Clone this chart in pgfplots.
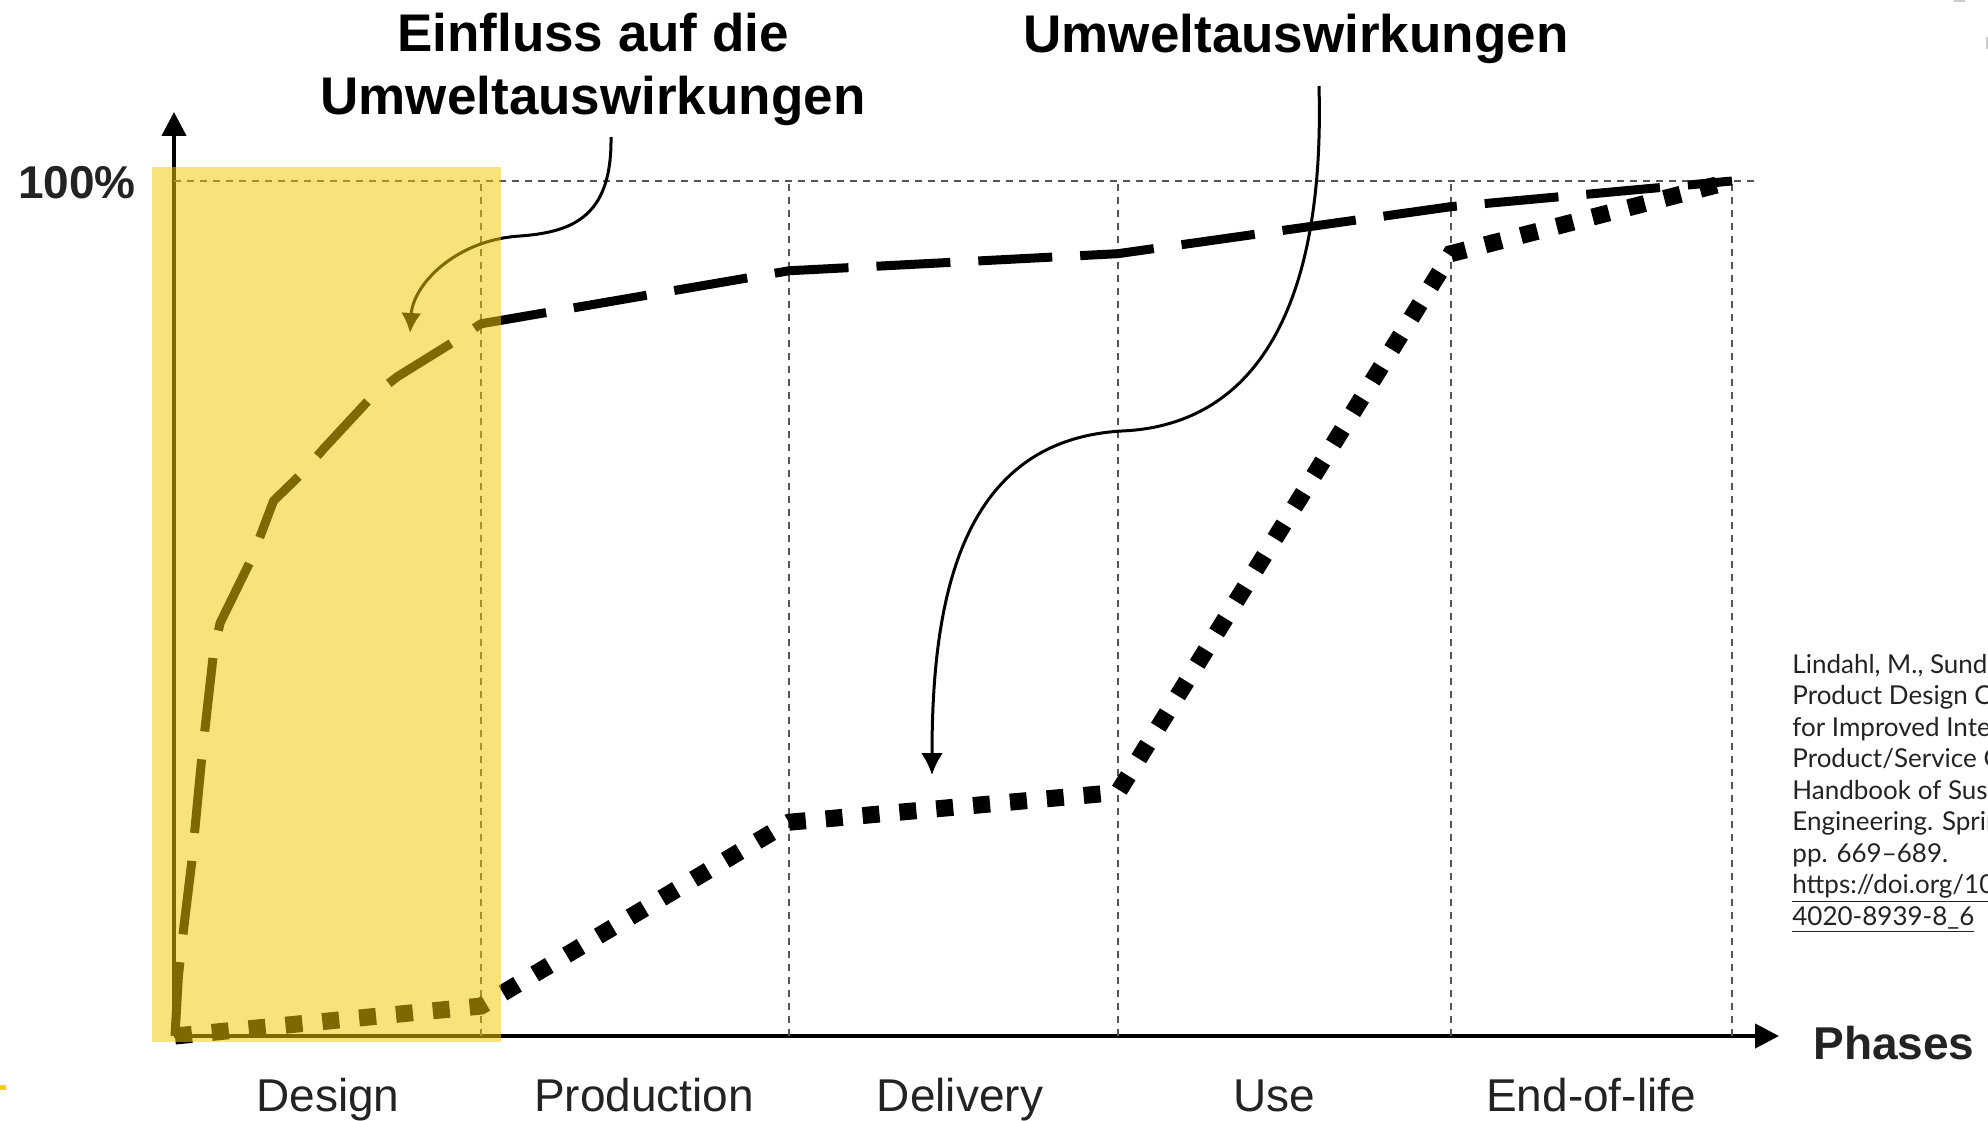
\documentclass[border=0pt]{standalone}
\usepackage{pgfplots}
\pgfplotsset{compat=1.18}
\usepackage{fontspec}
\setmainfont{Liberation Sans}
\newfontfamily\citefont{Lato}
\usetikzlibrary{arrows.meta}
\definecolor{hl}{RGB}{246,200,0}
\definecolor{gridc}{RGB}{85,85,85}
\definecolor{labc}{RGB}{35,35,35}
\definecolor{markyel}{RGB}{245,208,0}

\begin{document}
\begin{tikzpicture}
\begin{scope}[x=0.5pt,y=-0.5pt]
\useasboundingbox[fill=white] (0,0) rectangle (1988,1120);
\end{scope}

\begin{axis}[
  at={(87pt,-518pt)}, anchor=origin,
  scale only axis, width=802.5pt, height=462pt,
  xmin=0, xmax=1605, ymin=0, ymax=108.07,
  axis lines=left,
  axis line style={line width=2.2pt, black},
  x axis line style={-{Triangle[length=12pt,width=12pt]}},
  y axis line style={-{Triangle[length=12pt,width=12pt]}},
  xtick=\empty, ytick=\empty,
  clip=false,
]
% reference lines
\addplot[gridc, line width=0.8pt, dash pattern=on 3.5pt off 3pt] coordinates {(0,100) (1580,100)};
\addplot[gridc, line width=0.8pt, dash pattern=on 3.5pt off 3pt] coordinates {(307,0) (307,100)};
\addplot[gridc, line width=0.8pt, dash pattern=on 3.5pt off 3pt] coordinates {(615,0) (615,100)};
\addplot[gridc, line width=0.8pt, dash pattern=on 3.5pt off 3pt] coordinates {(944,0) (944,100)};
\addplot[gridc, line width=0.8pt, dash pattern=on 3.5pt off 3pt] coordinates {(1277,0) (1277,100)};
\addplot[gridc, line width=0.8pt, dash pattern=on 3.5pt off 3pt] coordinates {(1558,0) (1558,100)};
% Einfluss auf die Umweltauswirkungen (dashed)
\addplot[black, line width=4.5pt, dash pattern=on 37pt off 14pt, line cap=butt, line join=round] coordinates {
(1,0) (4.4,7) (9.4,12.3) (17.8,20.4) (27.8,32.6) (39.5,44.8) (46.1,48.3)
(77.9,55.9) (99.6,62.6) (129.6,66.0) (149.7,68.7) (198.1,74.8) (223.2,77.1)
(286.6,81.7) (307,83.3) (615,89.5) (944,91.5) (1277,97.0) (1558,100)};
% Umweltauswirkungen (dotted)
\addplot[black, line width=8.5pt, dash pattern=on 8.5pt off 10pt, line cap=butt, line join=miter] coordinates {
(1,0) (307,3.5) (615,25) (944,28.5) (1277,91.5) (1558,100)};
\end{axis}

\begin{scope}[x=0.5pt,y=-0.5pt]
% annotation arrows
\draw[line width=1.5pt, -{Latex[length=10pt,width=10pt]}]
  (611,137) .. controls (612,215) and (575,232) .. (520,236)
            .. controls (455,240) and (413,285) .. (410,333);
\draw[line width=1.5pt, -{Latex[length=11pt,width=11pt]}]
  (1319,86) .. controls (1325,300) and (1260,425) .. (1122,431)
            .. controls (960,440) and (932,600) .. (932,775);
% highlight
\fill[hl, opacity=0.52] (152,167) rectangle (501,1042);
\fill[markyel] (0,1085) rectangle (6,1090);
\fill[gray!40] (1954,0) rectangle (1965,2);
\fill[gray!40] (1986,37) rectangle (1988,49);

% titles
\node[anchor=base, inner sep=0, font=\fontsize{26.5pt}{31.5pt}\selectfont\bfseries] at (593,51) {Einfluss auf die};
\node[anchor=base, inner sep=0, font=\fontsize{26.5pt}{31.5pt}\selectfont\bfseries] at (593,114) {Umweltauswirkungen};
\node[anchor=base, inner sep=0, font=\fontsize{26.5pt}{31.5pt}\selectfont\bfseries] at (1296,53) {Umweltauswirkungen};

% axis labels
\node[anchor=base, inner sep=0, text=labc, font=\fontsize{23pt}{27pt}\selectfont\bfseries] at (77,198) {100\%};
\node[anchor=base, inner sep=0, text=labc, font=\fontsize{23pt}{27pt}\selectfont\bfseries] at (1894,1059) {Phases};
\foreach \xx/\lab in {328/Design, 644/Production, 960/Delivery, 1274/Use, 1591/End-of-life}
  \node[anchor=base, inner sep=0, text=labc, font=\fontsize{23pt}{27pt}\selectfont] at (\xx,1111) {\lab};

% citation (cut at the right edge)
\begin{scope}
\clip (0,0) rectangle (1988,1120);
\foreach \i/\t in {0/{Lindahl, M., Sundin, E.},
                   1/{Product Design Considerations},
                   2/{for Improved Integrated},
                   3/{Product/Service Offerings.},
                   4/{Handbook of Sustainable},
                   5/{Engineering. Springer,},
                   6/{pp. 669–689.}}
  \node[anchor=base west, inner sep=0, text=labc, font=\citefont\fontsize{13pt}{16pt}\selectfont] at (1792,673+31.5*\i) {\t};
\node[anchor=base west, inner sep=0, text=labc, font=\citefont\fontsize{13pt}{16pt}\selectfont] at (1792,673+31.5*7) {\underline{https://doi.org/10.1007/978-1-}};
\node[anchor=base west, inner sep=0, text=labc, font=\citefont\fontsize{13pt}{16pt}\selectfont] at (1792,673+31.5*8) {\underline{4020-8939-8\_6}};
\end{scope}
\end{scope}
\end{tikzpicture}
\end{document}
